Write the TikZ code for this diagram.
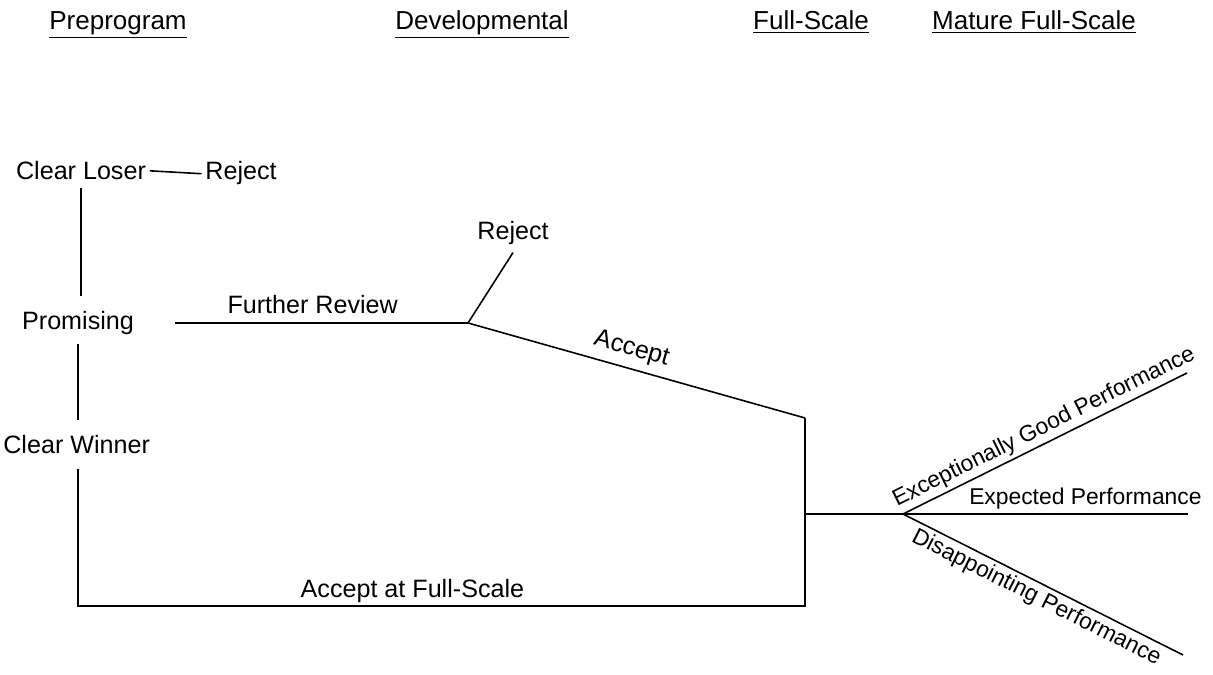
\documentclass[tikz,border=0pt]{standalone}
\usepackage{fontspec}
\setmainfont{Liberation Sans}
\usetikzlibrary{positioning, calc}

\begin{document}
\begin{tikzpicture}[
    x=0.02cm, y=-0.02cm,
    phase/.style={font=\fontsize{14.8}{17}\selectfont, inner sep=1pt, anchor=base},
    outcome/.style={font=\fontsize{14.3}{17}\selectfont, inner sep=4pt, anchor=base},
    pathlabel/.style={font=\fontsize{14.3}{17}\selectfont, inner sep=4pt},
    perflabel/.style={font=\fontsize{13}{15}\selectfont, inner sep=2pt},
    branch/.style={line width=0.9pt, black}
]
\useasboundingbox (0,0) rectangle (1213,675);

% Phase headings
\node[phase] (h_pre)    at (118,30)  {\underline{Preprogram}};
\node[phase] (h_dev)    at (482,30)  {\underline{Developmental}};
\node[phase] (h_full)   at (811,30)  {\underline{Full-Scale}};
\node[phase] (h_mature) at (1034,30) {\underline{Mature Full-Scale}};

% Preprogram outcomes
\node[outcome] (loser)    at (81,180)  {Clear Loser};
\node[outcome] (rej_pre)  at (241,180) {Reject};
\node[outcome] (promising) at (78,330) {Promising};
\node[outcome, anchor=base west, inner xsep=0pt] (winner) at (3,453) {Clear Winner};

% Developmental outcomes
\node[outcome] (rej_dev) at (513,240) {Reject};

% Junction points
\coordinate (revstart) at (175,323);
\coordinate (revknot)  at (468,323);
\coordinate (fstop)    at (805,418);
\coordinate (fsbot)    at (805,606);
\coordinate (fsmid)    at (805,514);
\coordinate (fan)      at (903,514);
\coordinate (goodend)  at (1187,373);
\coordinate (expend)   at (1188,514);
\coordinate (badend)   at (1183,655);

% Preprogram screening
\draw[branch, shorten <=-2pt, shorten >=-2pt] (loser.east) -- (rej_pre.west);
\draw[branch, shorten >=5pt] (loser.south) -- (loser.south |- promising.north);
\draw[branch, shorten <=1pt, shorten >=4pt] (promising.south) -- (promising.south |- winner.north);
\draw[branch, shorten <=5pt] (promising.south |- winner.south) |- (fsbot)
    node[pathlabel, above, pos=0.73, inner sep=1.5pt] {Accept at Full-Scale} -- (fstop);

% Developmental review
\draw[branch] (revstart) -- node[pathlabel, above, pos=0.47, inner sep=5pt] {Further Review} (revknot);
\draw[branch] (revknot) -- (rej_dev.south);
\draw[branch] (revknot) -- node[pathlabel, sloped, above, pos=0.47] {Accept} (fstop);

% Full-scale performance
\draw[branch] (fsmid) -- (fan);
\draw[branch] (fan) -- node[perflabel, sloped, above, pos=0.52] {Exceptionally Good Performance} (goodend);
\draw[branch] (fan) -- node[perflabel, above, pos=0.64] {Expected Performance} (expend);
\draw[branch] (fan) -- node[perflabel, sloped, below, pos=0.5] {Disappointing Performance} (badend);

\end{tikzpicture}
\end{document}
